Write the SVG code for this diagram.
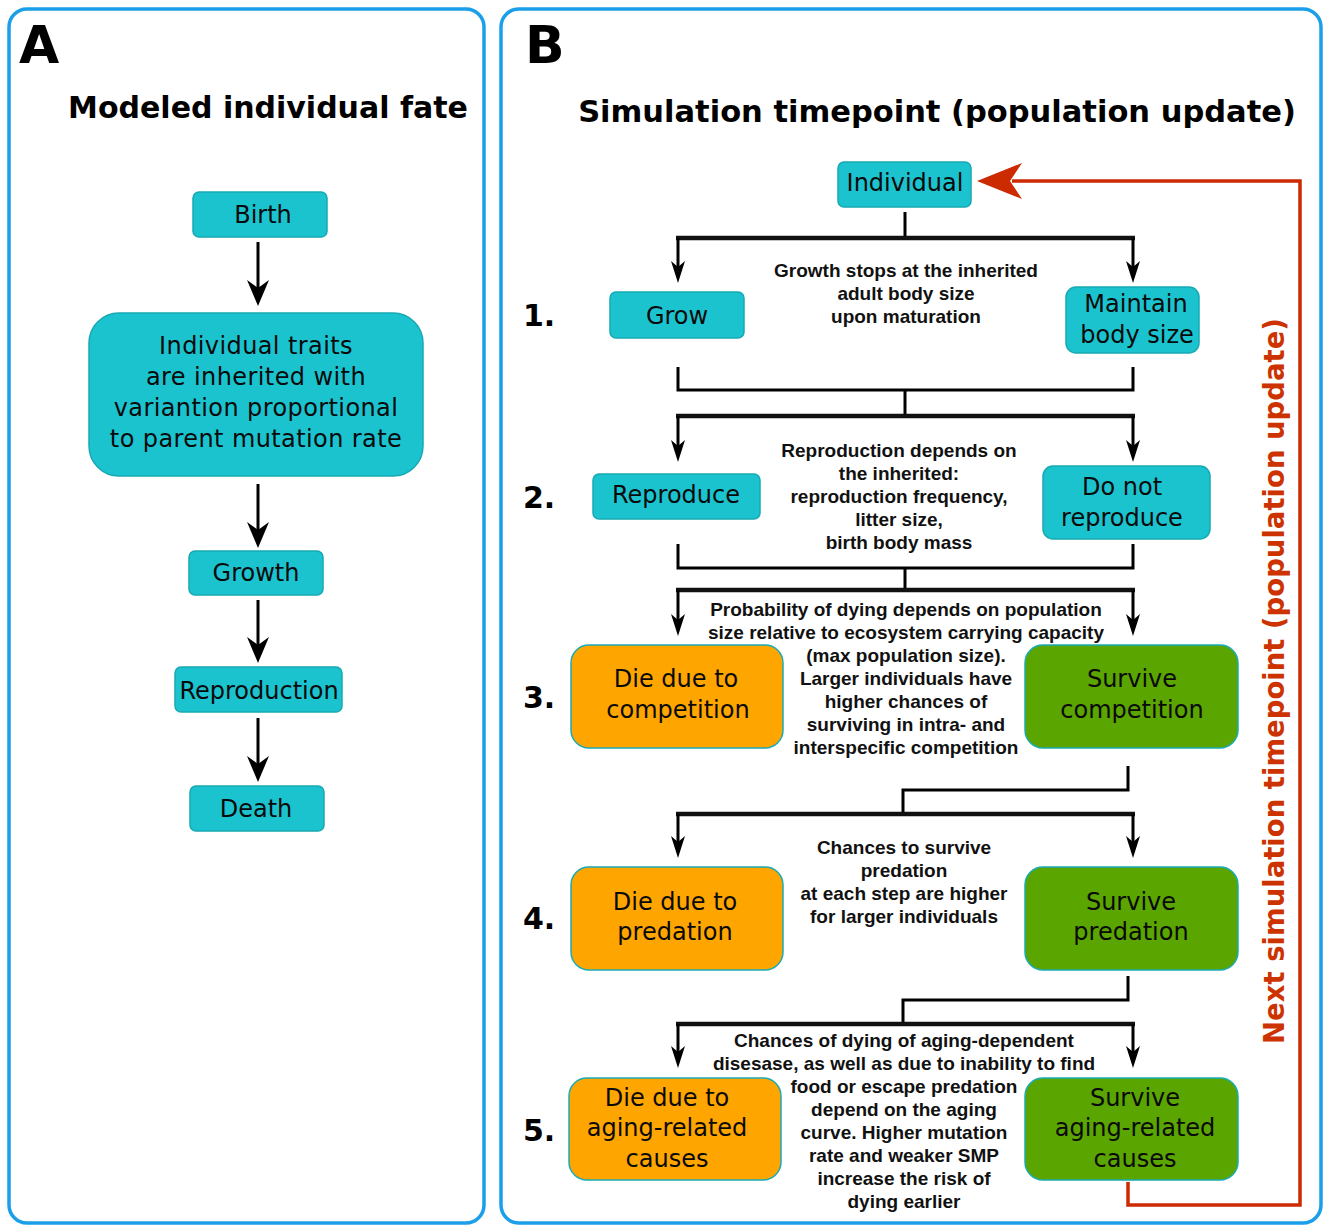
<svg xmlns="http://www.w3.org/2000/svg" width="1325" height="1226" viewBox="0 0 1325 1226">
<defs>
<style>
.panel{fill:#ffffff;stroke:#1b9fe8;stroke-width:3.5}
.teal{fill:#1bc3cf;stroke:#17a9b3;stroke-width:1.5}
.orange{fill:#ffa500;stroke:#1aabb3;stroke-width:1.5}
.green{fill:#5aa500;stroke:#1aabb3;stroke-width:1.5}
.nt{font-family:"DejaVu Sans",Verdana,sans-serif;font-size:24px;fill:#0a0a0a;text-anchor:middle}
.ann{font-family:"Liberation Sans",Arial,sans-serif;font-weight:bold;font-size:19px;fill:#111;text-anchor:middle}
.big{font-family:"DejaVu Sans",Verdana,sans-serif;font-weight:bold;fill:#000}
.conn{fill:none;stroke:#000;stroke-width:3}
.bar{fill:none;stroke:#111;stroke-width:4.5}
</style>
<marker id="ahA" markerUnits="userSpaceOnUse" viewBox="-20 -15 32 30" refX="0" refY="0" markerWidth="32" markerHeight="30" orient="auto">
<path d="M10,0 L-16,-11 L-8,0 L-16,11 Z" fill="#000"/>
</marker>
<marker id="ahB" markerUnits="userSpaceOnUse" viewBox="-16 -10 26 20" refX="0" refY="0" markerWidth="26" markerHeight="20" orient="auto">
<path d="M8,0 L-14,-7 L-8,0 L-14,7 Z" fill="#000"/>
</marker>
</defs>

<rect class="panel" x="9" y="9" width="475" height="1214" rx="18"/>
<rect class="panel" x="501" y="9" width="820" height="1214" rx="18"/>

<text class="big" x="19" y="63" font-size="52">A</text>
<text class="big" x="268" y="118" font-size="30" text-anchor="middle">Modeled individual fate</text>
<text class="big" x="525" y="63" font-size="52">B</text>
<text class="big" x="937" y="122" font-size="30.5" text-anchor="middle">Simulation timepoint (population update)</text>

<g class="big" font-size="30">
<text x="523" y="326">1.</text>
<text x="523" y="508">2.</text>
<text x="523" y="708">3.</text>
<text x="523" y="929">4.</text>
<text x="523" y="1141">5.</text>
</g>

<g id="connectors">
<path class="conn" d="M258,242 V296" marker-end="url(#ahA)"/>
<path class="conn" d="M258,484 V538" marker-end="url(#ahA)"/>
<path class="conn" d="M258,600 V653" marker-end="url(#ahA)"/>
<path class="conn" d="M258,718 V772" marker-end="url(#ahA)"/>

<path class="conn" d="M905,212 V238"/>
<path class="bar" d="M676,238 H1135"/>
<path class="conn" d="M678,238 V275" marker-end="url(#ahB)"/>
<path class="conn" d="M1133,238 V275" marker-end="url(#ahB)"/>
<path class="conn" d="M678,367 V390 H1133 V367"/>
<path class="conn" d="M905,390 V416"/>
<path class="bar" d="M676,416 H1135"/>
<path class="conn" d="M678,416 V454" marker-end="url(#ahB)"/>
<path class="conn" d="M1133,416 V454" marker-end="url(#ahB)"/>
<path class="conn" d="M678,544 V568 H1133 V544"/>
<path class="conn" d="M905,568 V590"/>
<path class="bar" d="M676,590 H1135"/>
<path class="conn" d="M678,590 V628" marker-end="url(#ahB)"/>
<path class="conn" d="M1133,590 V628" marker-end="url(#ahB)"/>
<path class="conn" d="M1128,766 V790 H903 V814"/>
<path class="bar" d="M676,814 H1135"/>
<path class="conn" d="M678,814 V850" marker-end="url(#ahB)"/>
<path class="conn" d="M1133,814 V850" marker-end="url(#ahB)"/>
<path class="conn" d="M1128,976 V1000 H903 V1024"/>
<path class="bar" d="M676,1024 H1135"/>
<path class="conn" d="M678,1024 V1060" marker-end="url(#ahB)"/>
<path class="conn" d="M1133,1024 V1060" marker-end="url(#ahB)"/>

<path d="M1128,1182 V1205 H1300 V181 H1012" fill="none" stroke="#cc2a00" stroke-width="3.5"/>
<path d="M977,181 L1022,163 L1010,181 L1022,199 Z" fill="#cc2a00"/>
</g>

<text class="big" transform="translate(1284,681) rotate(-90)" font-size="27.5" text-anchor="middle" fill="#cc3300" style="fill:#cc3300">Next simulation timepoint (population update)</text>

<g id="birth"><rect class="teal" x="193" y="192" width="134" height="45" rx="6"/><text class="nt" x="263" y="223">Birth</text></g>
<g id="traits"><rect class="teal" x="89" y="313" width="334" height="163" rx="30"/>
<text class="nt" x="256" y="354" letter-spacing="0.4">Individual traits</text>
<text class="nt" x="256" y="385" letter-spacing="0.4">are inherited with</text>
<text class="nt" x="256" y="416" letter-spacing="0.4">variantion proportional</text>
<text class="nt" x="256" y="447" letter-spacing="0.4">to parent mutation rate</text></g>
<g id="growth"><rect class="teal" x="189" y="551" width="134" height="44" rx="6"/><text class="nt" x="256" y="581">Growth</text></g>
<g id="reproduction"><rect class="teal" x="175" y="667" width="167" height="45" rx="6"/><text class="nt" x="259" y="699">Reproduction</text></g>
<g id="death"><rect class="teal" x="190" y="786" width="134" height="45" rx="6"/><text class="nt" x="256" y="817">Death</text></g>

<g id="individual"><rect class="teal" x="838" y="162" width="133" height="45" rx="6"/><text class="nt" x="905" y="191">Individual</text></g>
<g id="grow"><rect class="teal" x="610" y="292" width="134" height="46" rx="6"/><text class="nt" x="677" y="324">Grow</text></g>
<g id="maintain"><rect class="teal" x="1066" y="287" width="133" height="66" rx="10"/><text class="nt" x="1136" y="312">Maintain</text><text class="nt" x="1137" y="343">body size</text></g>
<g id="step1-note"><text class="ann" x="906" y="277">Growth stops at the inherited</text><text class="ann" x="906" y="300">adult body size</text><text class="ann" x="906" y="323">upon maturation</text></g>

<g id="reproduce"><rect class="teal" x="593" y="474" width="167" height="45" rx="6"/><text class="nt" x="676" y="503">Reproduce</text></g>
<g id="donot"><rect class="teal" x="1043" y="466" width="167" height="73" rx="10"/><text class="nt" x="1122" y="495">Do not</text><text class="nt" x="1122" y="526">reproduce</text></g>
<g id="step2-note"><text class="ann" x="899" y="457">Reproduction depends on</text><text class="ann" x="899" y="480">the inherited:</text><text class="ann" x="899" y="503">reproduction frequency,</text><text class="ann" x="899" y="526">litter size,</text><text class="ann" x="899" y="549">birth body mass</text></g>

<g id="die-competition"><rect class="orange" x="571" y="645" width="212" height="103" rx="18"/><text class="nt" x="676" y="687">Die due to</text><text class="nt" x="678" y="718">competition</text></g>
<g id="survive-competition"><rect class="green" x="1025" y="645" width="213" height="103" rx="18"/><text class="nt" x="1132" y="687">Survive</text><text class="nt" x="1132" y="718">competition</text></g>
<g id="step3-note"><text class="ann" x="906" y="616">Probability of dying depends on population</text><text class="ann" x="906" y="639">size relative to ecosystem carrying capacity</text><text class="ann" x="906" y="662">(max population size).</text><text class="ann" x="906" y="685">Larger individuals have</text><text class="ann" x="906" y="708">higher chances of</text><text class="ann" x="906" y="731">surviving in intra- and</text><text class="ann" x="906" y="754">interspecific competition</text></g>

<g id="die-predation"><rect class="orange" x="571" y="867" width="212" height="103" rx="18"/><text class="nt" x="675" y="910">Die due to</text><text class="nt" x="675" y="940">predation</text></g>
<g id="survive-predation"><rect class="green" x="1025" y="867" width="213" height="103" rx="18"/><text class="nt" x="1131" y="910">Survive</text><text class="nt" x="1131" y="940">predation</text></g>
<g id="step4-note"><text class="ann" x="904" y="854">Chances to survive</text><text class="ann" x="904" y="877">predation</text><text class="ann" x="904" y="900">at each step are higher</text><text class="ann" x="904" y="923">for larger individuals</text></g>

<g id="die-aging"><rect class="orange" x="569" y="1078" width="212" height="102" rx="18"/><text class="nt" x="667" y="1106">Die due to</text><text class="nt" x="667" y="1136">aging-related</text><text class="nt" x="667" y="1167">causes</text></g>
<g id="survive-aging"><rect class="green" x="1025" y="1078" width="213" height="102" rx="18"/><text class="nt" x="1135" y="1106">Survive</text><text class="nt" x="1135" y="1136">aging-related</text><text class="nt" x="1135" y="1167">causes</text></g>
<g id="step5-note"><text class="ann" x="904" y="1047">Chances of dying of aging-dependent</text><text class="ann" x="904" y="1070">disesase, as well as due to inability to find</text><text class="ann" x="904" y="1093">food or escape predation</text><text class="ann" x="904" y="1116">depend on the aging</text><text class="ann" x="904" y="1139">curve. Higher mutation</text><text class="ann" x="904" y="1162">rate and weaker SMP</text><text class="ann" x="904" y="1185">increase the risk of</text><text class="ann" x="904" y="1208">dying earlier</text></g>
</svg>
